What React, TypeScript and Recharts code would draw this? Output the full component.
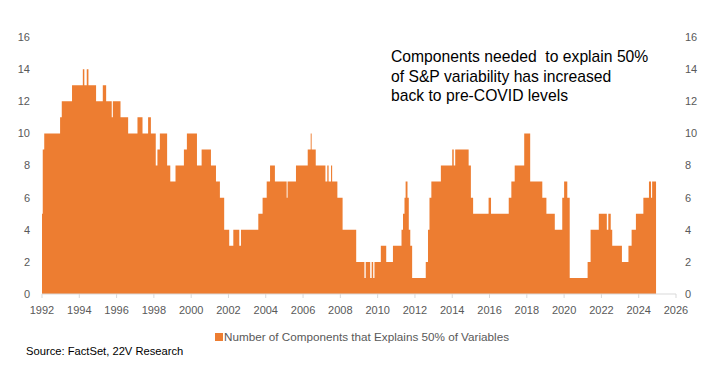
import React from "react";
import { AreaChart, Area, XAxis, YAxis, Legend } from "recharts";

// Start of each step (decimal year) and the component count held from that point on
const stepStartYears = [
  1992.0, 1992.04, 1992.12, 1992.97, 1993.06, 1993.61, 1994.19, 1994.27, 1994.4, 1994.49,
  1994.9, 1995.26, 1995.44, 1995.74, 1995.8, 1996.21, 1996.62, 1997.12, 1997.39, 1997.69,
  1997.84, 1998.1, 1998.19, 1998.32, 1998.71, 1998.88, 1999.16, 1999.61, 1999.77, 2000.31,
  2000.56, 2001.06, 2001.33, 2001.54, 2001.77, 2002.04, 2002.26, 2002.58, 2002.67, 2003.6,
  2003.83, 2004.05, 2004.23, 2004.49, 2005.12, 2005.17, 2005.62, 2006.25, 2006.41, 2006.46,
  2006.68, 2007.2, 2007.3, 2007.37, 2007.5, 2007.56, 2007.84, 2008.12, 2008.85, 2009.29,
  2009.36, 2009.6, 2009.68, 2009.76, 2009.83, 2010.17, 2010.46, 2010.82, 2011.28, 2011.36,
  2011.44, 2011.5, 2011.6, 2011.67, 2011.75, 2011.85, 2012.58, 2012.7, 2012.78, 2012.88,
  2013.39, 2014.0, 2014.08, 2014.16, 2014.88, 2015.0, 2015.12, 2015.95, 2016.08, 2017.03,
  2017.17, 2017.35, 2017.86, 2018.18, 2018.83, 2019.05, 2019.5, 2019.9, 2020.0, 2020.17,
  2020.3, 2021.26, 2021.42, 2021.86, 2022.29, 2022.37, 2022.5, 2022.58, 2023.1, 2023.45,
  2023.62, 2023.85, 2024.25, 2024.55, 2024.66, 2024.72, 2024.93,
];

const componentCounts = [
  5, 9, 10, 11, 12, 13, 14, 13, 14, 13,
  12, 13, 12, 11, 12, 11, 10, 11, 10, 11,
  10, 8, 9, 10, 8, 7, 8, 9, 10, 8,
  9, 8, 7, 6, 4, 3, 4, 3, 4, 5,
  6, 7, 8, 7, 6, 7, 8, 9, 10, 9,
  8, 7, 8, 7, 8, 7, 6, 4, 2, 1,
  2, 1, 2, 1, 2, 3, 2, 3, 4, 5,
  6, 7, 6, 4, 3, 1, 2, 4, 6, 7,
  8, 9, 8, 9, 8, 6, 5, 6, 5, 6,
  7, 8, 10, 7, 6, 5, 4, 6, 7, 6,
  1, 2, 4, 5, 4, 5, 4, 3, 2, 3,
  4, 5, 6, 7, 6, 7, 7,
];

const xTicks = [1992, 1994, 1996, 1998, 2000, 2002, 2004, 2006, 2008, 2010, 2012, 2014, 2016, 2018, 2020, 2022, 2024, 2026];
const yTicks = [0, 2, 4, 6, 8, 10, 12, 14, 16];

const seriesName = "Number of Components that Explains 50% of Variables";
const annotationLines = [
  "Components needed  to explain 50%",
  "of S&P variability has increased",
  "back to pre-COVID levels",
];
const sourceText = "Source: FactSet, 22V Research";

const data = stepStartYears.map((t, i) => ({ t, v: componentCounts[i] }));

const ORANGE = "#ED7D31";
const GREY = "#595959";
const FONT = "'Liberation Sans', Arial, sans-serif";

export default function App() {
  return (
    <div
      style={{
        position: "absolute",
        left: 0,
        top: 0,
        width: 716,
        height: 378,
        background: "#fff",
        fontFamily: FONT,
        overflow: "hidden",
      }}
    >
      <AreaChart
        width={716}
        height={378}
        data={data}
        margin={{ top: 37, right: 10, bottom: 44, left: 12 }}
      >
        <XAxis
          dataKey="t"
          type="number"
          domain={[1992, 2026]}
          ticks={xTicks}
          interval={0}
          height={20}
          axisLine={{ stroke: "#d9d9d9" }}
          tickLine={{ stroke: "#d9d9d9" }}
          tickSize={4}
          tickMargin={8}
          tick={{ fill: GREY, fontSize: 11, fontFamily: FONT }}
        />
        <YAxis
          yAxisId="left"
          type="number"
          domain={[0, 16]}
          ticks={yTicks}
          interval={0}
          width={30}
          axisLine={false}
          tickLine={false}
          tickMargin={6}
          tick={{ fill: GREY, fontSize: 11, fontFamily: FONT }}
        />
        <YAxis
          yAxisId="right"
          type="number"
          orientation="right"
          domain={[0, 16]}
          ticks={yTicks}
          interval={0}
          width={30}
          axisLine={false}
          tickLine={false}
          tickMargin={3}
          tick={{ fill: GREY, fontSize: 11, fontFamily: FONT, textAnchor: "start" }}
        />
        <Area
          yAxisId="left"
          type="stepAfter"
          dataKey="v"
          name={seriesName}
          fill={ORANGE}
          fillOpacity={1}
          stroke="none"
          isAnimationActive={false}
        />
        <Area
          yAxisId="right"
          type="stepAfter"
          dataKey="v"
          name="secondary-axis"
          legendType="none"
          fill="none"
          fillOpacity={0}
          stroke="none"
          isAnimationActive={false}
        />
        <Legend
          verticalAlign="bottom"
          align="center"
          iconType="square"
          iconSize={8}
          height={20}
          wrapperStyle={{ top: 327, left: 20, height: 20, bottom: "auto", fontFamily: FONT }}
          formatter={(value: string) => (
            <span style={{ color: GREY, fontSize: 11.7, marginLeft: -3 }}>{value}</span>
          )}
        />
      </AreaChart>
      <div
        style={{
          position: "absolute",
          left: 391,
          top: 47,
          fontSize: 15.7,
          lineHeight: "19.5px",
          color: "#000",
          whiteSpace: "pre",
        }}
      >
        {annotationLines.map((l, i) => (
          <div key={i}>{l}</div>
        ))}
      </div>
      <div
        style={{
          position: "absolute",
          left: 26,
          top: 345,
          fontSize: 11.2,
          color: "#000",
          whiteSpace: "pre",
        }}
      >
        {sourceText}
      </div>
    </div>
  );
}
